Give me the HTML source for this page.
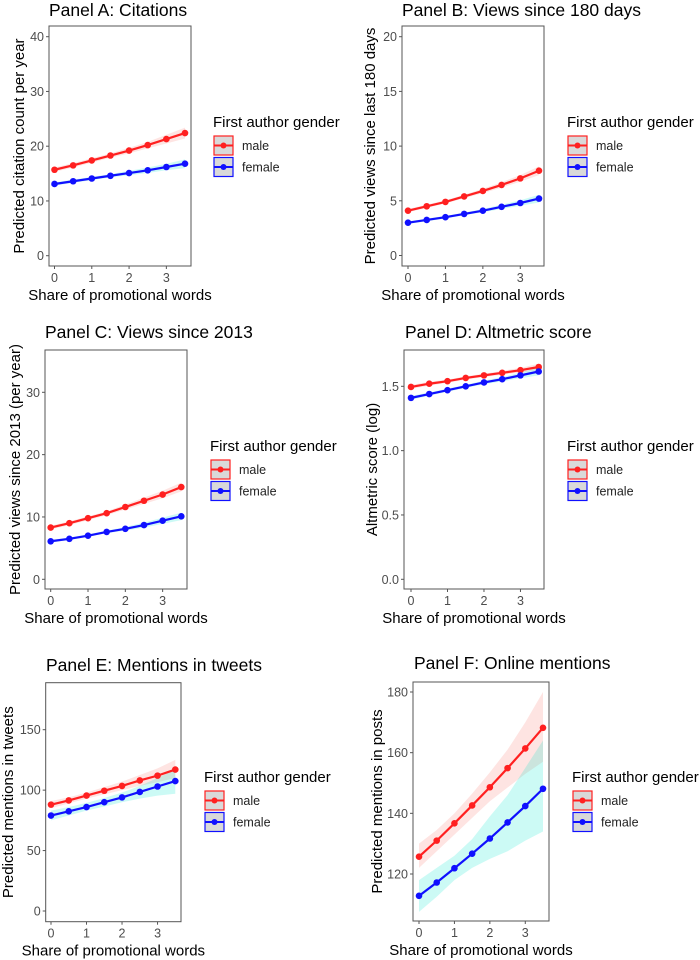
<!DOCTYPE html>
<html><head><meta charset="utf-8">
<style>
html,body{margin:0;padding:0;background:#fff;}
svg{display:block;font-family:"Liberation Sans",Arial,sans-serif;}
</style></head>
<body>
<svg id="chart" width="700" height="960" viewBox="0 0 700 960"></svg>
<script>
const xs = [0,0.5,1,1.5,2,2.5,3,3.5];
const xTicks = [0,1,2,3];
// Panel A
const aMale = [15.7,16.5,17.4,18.3,19.2,20.2,21.3,22.4];
const aFemale = [13.1,13.6,14.1,14.6,15.1,15.6,16.2,16.8];
const aMaleLo = [15.3,16.1,17.0,17.9,18.7,19.6,20.5,21.4];
const aMaleHi = [16.1,16.9,17.8,18.7,19.7,20.8,22.1,23.4];
const aFemaleLo = [12.8,13.3,13.8,14.3,14.7,15.1,15.6,16.0];
const aFemaleHi = [13.4,13.9,14.4,14.9,15.5,16.1,16.8,17.6];
const aTicks = [0,10,20,30,40];
// Panel B
const bMale = [4.1,4.5,4.9,5.4,5.9,6.45,7.05,7.75];
const bFemale = [3.0,3.25,3.5,3.8,4.1,4.45,4.8,5.2];
const bMaleLo = [3.95,4.35,4.75,5.25,5.7,6.2,6.75,7.35];
const bMaleHi = [4.25,4.65,5.05,5.55,6.1,6.7,7.35,8.15];
const bFemaleLo = [2.88,3.13,3.38,3.68,3.95,4.25,4.55,4.85];
const bFemaleHi = [3.12,3.37,3.62,3.92,4.25,4.65,5.05,5.55];
const bTicks = [0,5,10,15,20];
// Panel C
const cMale = [8.3,9.0,9.8,10.6,11.6,12.6,13.6,14.8];
const cFemale = [6.1,6.5,7.0,7.6,8.1,8.7,9.4,10.1];
const cMaleLo = [8.0,8.7,9.5,10.3,11.2,12.1,13.0,14.1];
const cMaleHi = [8.6,9.3,10.1,10.9,12.0,13.1,14.2,15.5];
const cFemaleLo = [5.9,6.3,6.8,7.4,7.8,8.3,8.9,9.5];
const cFemaleHi = [6.3,6.7,7.2,7.8,8.4,9.1,9.9,10.7];
const cTicks = [0,10,20,30];
// Panel D
const dMale = [1.495,1.52,1.54,1.565,1.585,1.605,1.625,1.65];
const dFemale = [1.41,1.44,1.47,1.5,1.53,1.555,1.585,1.615];
const dMaleLo = [1.48,1.505,1.528,1.552,1.572,1.59,1.607,1.625];
const dMaleHi = [1.51,1.535,1.552,1.578,1.598,1.62,1.643,1.675];
const dFemaleLo = [1.395,1.427,1.458,1.488,1.516,1.538,1.563,1.585];
const dFemaleHi = [1.425,1.453,1.482,1.512,1.544,1.572,1.607,1.645];
const dTicks = [0.0,0.5,1.0,1.5];
const dTickLabels = ["0.0","0.5","1.0","1.5"];
// Panel E
const eMale = [88,91.5,95.5,99.5,103.5,108,112,117];
const eFemale = [79,82.5,86,90,94,98.5,103,107.5];
const eMaleLo = [85,89,93,96.5,100,103.5,106.5,110];
const eMaleHi = [91,94,98,102.5,107,112.5,118,125];
const eFemaleLo = [75,79,83,86.5,90,93,95.5,97];
const eFemaleHi = [83,86,89.5,93.5,98,103.5,110,117];
const eTicks = [0,50,100,150];
// Panel F
const fMale = [125.7,131,136.7,142.6,148.6,154.9,161.4,168.2];
const fFemale = [112.8,117.2,121.9,126.7,131.7,137,142.4,148.1];
const fMaleLo = [122,127.5,133,138.5,144,148.5,153,157];
const fMaleHi = [130,134.5,140,146.5,153.5,161,170,180];
const fFemaleLo = [107.5,112.5,118,122,125,127.5,131,134];
const fFemaleHi = [118,122,126,131.5,139,146,155,164];
const fTicks = [120,140,160,180];

const panels = [
 {id:'a',title:'Panel A: Citations',ytitle:'Predicted citation count per year',box:[49,26,191,266],x0:54.5,x35:185,yv:[0,40],yp:[255.7,36.7],ticks:aTicks,tl:null,male:aMale,female:aFemale,mlo:aMaleLo,mhi:aMaleHi,flo:aFemaleLo,fhi:aFemaleHi,tx:49,ty:16,ytx:19,lx:213,ly:127},
 {id:'b',title:'Panel B: Views since 180 days',ytitle:'Predicted views since last 180 days',box:[402,26,544,266],x0:408,x35:539,yv:[0,20],yp:[255.5,36.7],ticks:bTicks,tl:null,male:bMale,female:bFemale,mlo:bMaleLo,mhi:bMaleHi,flo:bFemaleLo,fhi:bFemaleHi,tx:402,ty:16,ytx:370,lx:567,ly:127},
 {id:'c',title:'Panel C: Views since 2013',ytitle:'Predicted views since 2013 (per year)',box:[45,350,187,589],x0:50.7,x35:181.3,yv:[0,30],yp:[579.3,392.3],ticks:cTicks,tl:null,male:cMale,female:cFemale,mlo:cMaleLo,mhi:cMaleHi,flo:cFemaleLo,fhi:cFemaleHi,tx:45,ty:338,ytx:15,lx:210,ly:451},
 {id:'d',title:'Panel D: Altmetric score',ytitle:'Altmetric score (log)',box:[404,350,544,589],x0:411,x35:538.7,yv:[0,1.5],yp:[579.3,386.3],ticks:dTicks,tl:dTickLabels,male:dMale,female:dFemale,mlo:dMaleLo,mhi:dMaleHi,flo:dFemaleLo,fhi:dFemaleHi,tx:405,ty:338,ytx:372,lx:567,ly:451},
 {id:'e',title:'Panel E: Mentions in tweets',ytitle:'Predicted mentions in tweets',box:[45.7,682.7,181,921.7],x0:51,x35:175.3,yv:[0,150],yp:[911,729.7],ticks:eTicks,tl:null,male:eMale,female:eFemale,mlo:eMaleLo,mhi:eMaleHi,flo:eFemaleLo,fhi:eFemaleHi,tx:46,ty:671,ytx:8,lx:204,ly:782},
 {id:'f',title:'Panel F: Online mentions',ytitle:'Predicted mentions in posts',box:[413,682,549,921],x0:419,x35:543,yv:[120,180],yp:[874,692],ticks:fTicks,tl:null,male:fMale,female:fFemale,mlo:fMaleLo,mhi:fMaleHi,flo:fFemaleLo,fhi:fFemaleHi,tx:414,ty:669,ytx:377,lx:572,ly:782}
];

const svg = document.getElementById('chart');
const NS = 'http://www.w3.org/2000/svg';
function mk(tag, attrs, parent){
  const e = document.createElementNS(NS, tag);
  for (const k in attrs) e.setAttribute(k, attrs[k]);
  parent.appendChild(e);
  return e;
}

panels.forEach(p => {
  const g = mk('g', {}, svg);
  
  
  const xS = v => p.x0 + (v - 0) / 3.5 * (p.x35 - p.x0);
  const yS = v => p.yp[0] + (v - p.yv[0]) / (p.yv[1] - p.yv[0]) * (p.yp[1] - p.yp[0]);
  const [bx0, by0, bx1, by1] = p.box;

  const t = mk('text', {x:p.tx, y:p.ty, 'font-size':17.5, fill:'#000'}, g);
  t.textContent = p.title;
  
  

  const ribbon = (lo, hi, color, op, nm) => {
    let d = '';
    xs.forEach((x, i) => { d += (i ? 'L' : 'M') + xS(x) + ',' + yS(hi[i]); });
    for (let i = xs.length - 1; i >= 0; i--) d += 'L' + xS(xs[i]) + ',' + yS(lo[i]);
    const r = mk('path', {d: d + 'Z', fill: color, 'fill-opacity': op}, g);
    
    
  };
  ribbon(p.mlo, p.mhi, '#f8766d', 0.2, 'male-ribbon');
  ribbon(p.flo, p.fhi, '#00e5cc', 0.2, 'female-ribbon');

  const series = (vals, color, nm) => {
    const pts = xs.map((x, i) => xS(x) + ',' + yS(vals[i])).join(' ');
    const l = mk('polyline', {points: pts, fill:'none', stroke: color, 'stroke-width': 2.2}, g);
    
    
    xs.forEach((x, i) => {
      const c = mk('circle', {cx: xS(x), cy: yS(vals[i]), r: 3.3, fill: color}, g);
      
      
    });
  };
  series(p.male, '#ff2020', 'male');
  series(p.female, '#1010ff', 'female');

  const box = mk('rect', {x:bx0, y:by0, width:bx1-bx0, height:by1-by0, fill:'none', stroke:'#555', 'stroke-width':1}, g);
  
  

  p.ticks.forEach((v, i) => {
    const y = yS(v);
    mk('line', {x1:bx0-3, x2:bx0, y1:y, y2:y, stroke:'#555'}, g);
    const tl = mk('text', {x:bx0-5, y:y+4.5, 'font-size':12.5, fill:'#4d4d4d', 'text-anchor':'end'}, g);
    tl.textContent = p.tl ? p.tl[i] : String(v);
    
    
  });
  xTicks.forEach(v => {
    const x = xS(v);
    mk('line', {x1:x, x2:x, y1:by1, y2:by1+3, stroke:'#555'}, g);
    const tl = mk('text', {x:x, y:by1+16, 'font-size':12.5, fill:'#4d4d4d', 'text-anchor':'middle'}, g);
    tl.textContent = String(v);
    
    
  });

  const xt = mk('text', {x:(bx0+bx1)/2, y:by1+34, 'font-size':15, fill:'#000', 'text-anchor':'middle'}, g);
  xt.textContent = 'Share of promotional words';
  
  

  const cy = (by0 + by1) / 2;
  const yt = mk('text', {x:0, y:0, 'font-size':15, fill:'#000', 'text-anchor':'middle', transform:'translate(' + (p.ytx+5) + ',' + cy + ') rotate(-90)'}, g);
  yt.textContent = p.ytitle;
  
  

  const lg = mk('g', {}, g);
  
  
  const lt = mk('text', {x:p.lx, y:p.ly, 'font-size':15, fill:'#000'}, lg);
  lt.textContent = 'First author gender';
  
  
  [['male','#ff2020'],['female','#1010ff']].forEach(([nm, col], k) => {
    const ky = p.ly + 9 + k * 21.5;
    const e = mk('g', {}, lg);
    
    
    mk('rect', {x:p.lx+1, y:ky, width:19, height:19, fill:'#d9d9d9', stroke:col, 'stroke-width':1.2}, e);
    mk('line', {x1:p.lx+1, x2:p.lx+20, y1:ky+9.5, y2:ky+9.5, stroke:col, 'stroke-width':2}, e);
    mk('circle', {cx:p.lx+10.5, cy:ky+9.5, r:3, fill:col}, e);
    const tx = mk('text', {x:p.lx+29, y:ky+14, 'font-size':12.5, fill:'#222'}, e);
    tx.textContent = nm;
  });
});
</script>
</body></html>
